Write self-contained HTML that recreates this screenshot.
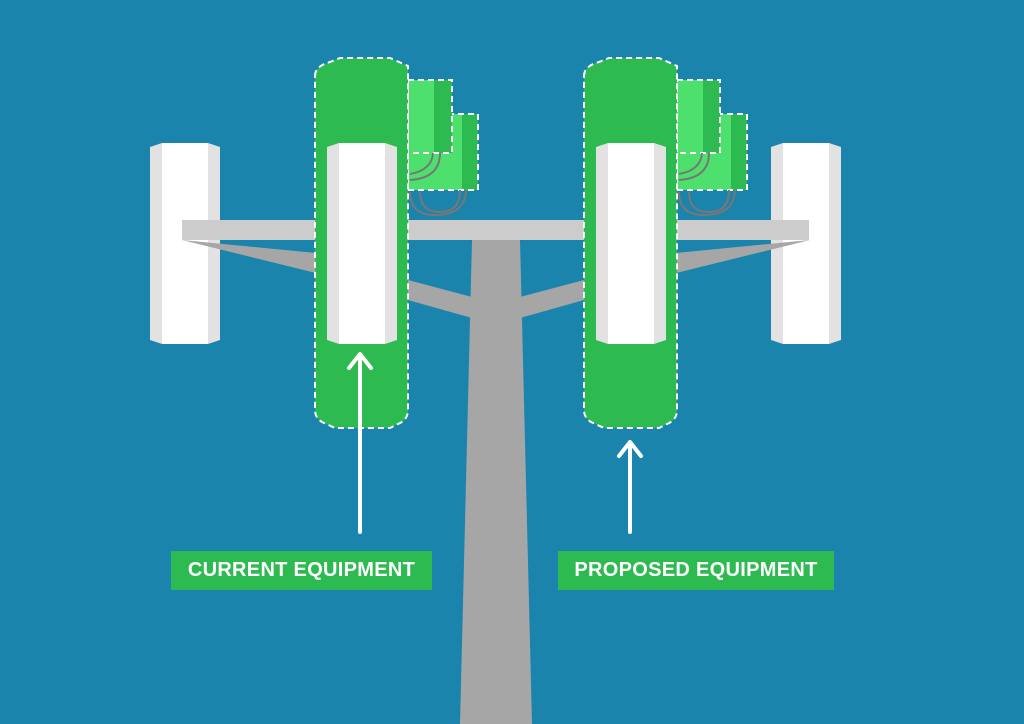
<!DOCTYPE html>
<html><head><style>
html,body{margin:0;padding:0;}
body{width:1024px;height:724px;background:#1a84ad;overflow:hidden;position:relative;font-family:"Liberation Sans",sans-serif;}
.lab{position:absolute;background:#2dba50;color:#fff;font-weight:bold;font-size:20px;text-align:center;line-height:39px;height:39px;letter-spacing:0.3px;}
</style></head><body>
<svg width="1024" height="724" viewBox="0 0 1024 724" style="position:absolute;left:0;top:0">
<defs>
<g id="panel">
<polygon points="0,4 12,0 58,0 70,4 70,197 58,201 12,201 0,197" fill="#e2e2e2"/>
<rect x="12" y="0" width="46" height="201" fill="#ffffff"/>
</g>
</defs>
<!-- pole -->
<polygon points="472,240 520,240 532,724 460,724" fill="#a6a6a6"/>
<!-- outer panels -->
<use href="#panel" x="150" y="143"/>
<use href="#panel" x="771" y="143"/>
<!-- braces -->
<polygon points="182,240 316,253 316,273" fill="#a6a6a6"/>
<polygon points="408,280 472,297 472,318 408,300" fill="#a6a6a6"/>
<polygon points="810,240 676,253 676,273" fill="#a6a6a6"/>
<polygon points="584,280 520,297 520,318 584,300" fill="#a6a6a6"/>
<!-- arm -->
<rect x="182" y="220" width="627" height="20" fill="#cccccc"/>
<!-- left equipment -->
<g>
<path d="M408,175 A28,28 0 0 1 436,150 M408,180 A32,32 0 0 0 436,150 M408,188 A30,30 0 0 0 445,150" stroke="#777" stroke-width="2" fill="none"/>
<rect x="408" y="114" width="70" height="76" fill="#4de06c"/>
<rect x="462" y="114" width="16" height="76" fill="#2dba50"/>
<rect x="408" y="114" width="70" height="76" fill="none" stroke="#fff" stroke-width="2" stroke-dasharray="6,4"/>
<path d="M410,192 Q410,215 435,215 Q465,215 466,190 M420,192 Q420,212 440,212 Q460,212 460,190" stroke="#777" stroke-width="2" fill="none"/>
<rect x="408" y="80" width="44" height="73" fill="#4de06c"/>
<rect x="434" y="80" width="18" height="73" fill="#2dba50"/>
<rect x="408" y="80" width="44" height="73" fill="none" stroke="#fff" stroke-width="2" stroke-dasharray="6,4"/>
<path d="M410,180 Q440,178 440,153 M410,174 Q432,170 433,153" stroke="#777" stroke-width="2" fill="none"/>
<path d="M315,76 Q315,66 330,62 L340,58 L390,58 L408,66 L408,410 Q408,420 398,424 L390,428 L335,428 L322,422 Q315,418 315,410 Z" fill="#2dba50" stroke="#fff" stroke-width="2" stroke-dasharray="6,4"/>
<use href="#panel" x="327" y="143"/>
</g>
<!-- right equipment -->
<g>
<rect x="677" y="114" width="70" height="76" fill="#4de06c"/>
<rect x="731" y="114" width="16" height="76" fill="#2dba50"/>
<rect x="677" y="114" width="70" height="76" fill="none" stroke="#fff" stroke-width="2" stroke-dasharray="6,4"/>
<path d="M679,192 Q679,215 704,215 Q734,215 735,190 M689,192 Q689,212 709,212 Q729,212 729,190" stroke="#777" stroke-width="2" fill="none"/>
<rect x="677" y="80" width="43" height="73" fill="#4de06c"/>
<rect x="703" y="80" width="17" height="73" fill="#2dba50"/>
<rect x="677" y="80" width="43" height="73" fill="none" stroke="#fff" stroke-width="2" stroke-dasharray="6,4"/>
<path d="M679,180 Q709,178 709,153 M679,174 Q701,170 702,153" stroke="#777" stroke-width="2" fill="none"/>
<path d="M584,76 Q584,66 599,62 L609,58 L659,58 L677,66 L677,410 Q677,420 667,424 L659,428 L604,428 L591,422 Q584,418 584,410 Z" fill="#2dba50" stroke="#fff" stroke-width="2" stroke-dasharray="6,4"/>
<use href="#panel" x="596" y="143"/>
</g>
<!-- arrows -->
<g stroke="#fff" stroke-width="4" fill="none" stroke-linecap="round" stroke-linejoin="round">
<line x1="360" y1="356" x2="360" y2="532"/>
<polyline points="349,368 360,354 371,368"/>
<line x1="630" y1="444" x2="630" y2="532"/>
<polyline points="619,456 630,442 641,456"/>
</g>
</svg>
<div class="lab" style="left:171px;top:551px;width:261px;">CURRENT EQUIPMENT</div>
<div class="lab" style="left:558px;top:551px;width:276px;">PROPOSED EQUIPMENT</div>
</body></html>
